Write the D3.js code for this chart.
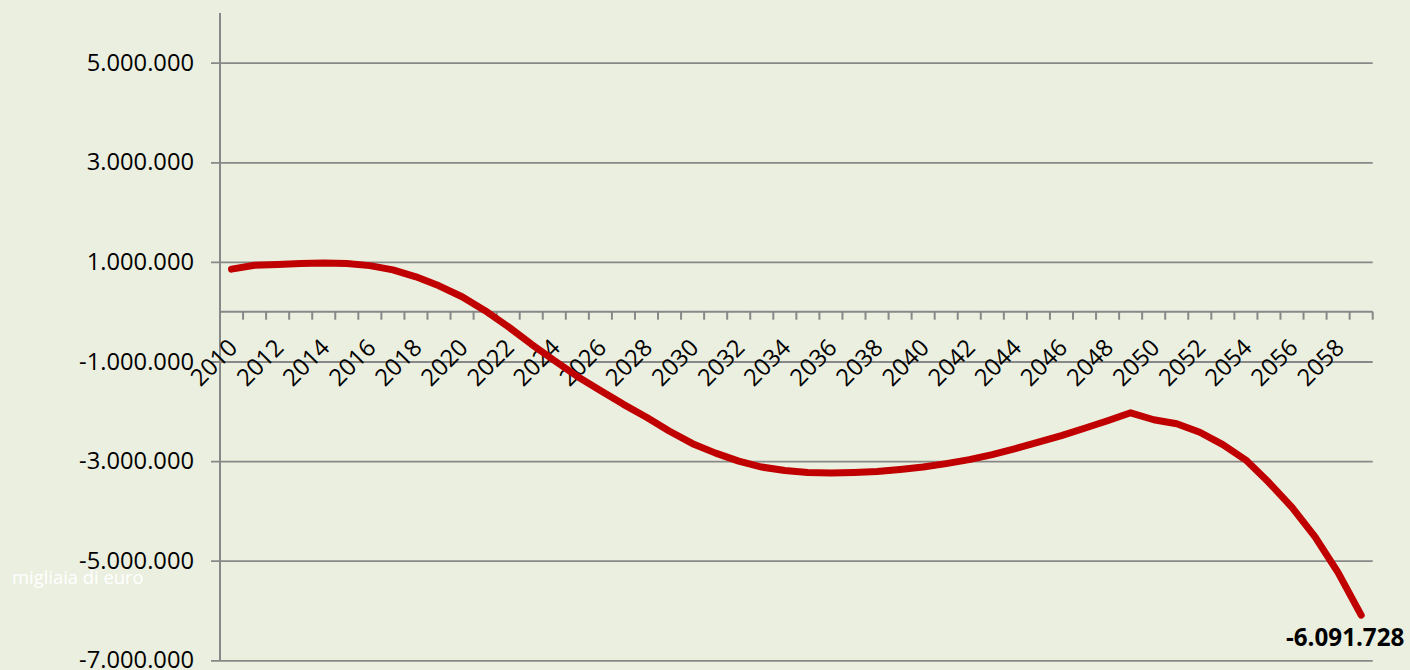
<!DOCTYPE html>
<html>
<head>
<meta charset="utf-8">
<script src="https://cdn.jsdelivr.net/npm/d3@7"></script>
<style>
  html, body { margin: 0; padding: 0; background: #ebefdf; }
  svg { display: block; }
  text { font-family: "Open Sans", "Noto Sans", sans-serif; }
</style>
</head>
<body>
<svg id="chart" width="1410" height="670"></svg>
<script>
// Saldo annuo, migliaia di euro, 2010-2059
const years = d3.range(2010, 2060);
const values = [
   854000,  932000,  950000,  970000,  978000,  970000,  925000,  840000,  700000,  520000,
   300000,   20000, -300000, -650000, -980000, -1300000, -1580000, -1860000, -2120000, -2400000,
  -2650000, -2840000, -3000000, -3120000, -3190000, -3230000, -3240000, -3230000, -3210000, -3170000,
  -3120000, -3050000, -2970000, -2870000, -2750000, -2620000, -2490000, -2340000, -2190000, -2030000,
  -2170000, -2250000, -2420000, -2670000, -2980000, -3430000, -3930000, -4520000, -5240000, -6091728
];
const yTicks = [5000000, 3000000, 1000000, -1000000, -3000000, -5000000, -7000000];
const xLabelYears = years.filter(y => (y - 2010) % 2 === 0);
const unitLabel = "migliaia di euro";

const it = d3.formatLocale({ decimal: ",", thousands: ".", grouping: [3], currency: ["€", ""], minus: "-" });
const fmt = it.format(",d");

const svg = d3.select("#chart");
const plotLeft = 220, plotRight = 1372.7, plotTop = 12.9, plotBottom = 660.3;
const labelSize = 23.7;

const x = d3.scaleBand().domain(years).range([plotLeft, plotRight]).paddingInner(0).paddingOuter(0);
const y = d3.scaleLinear().domain([-7000000, 6000000]).range([plotBottom, plotTop]);
const cx = d => x(d) + x.bandwidth() / 2;

// gridlines + value labels
const gy = svg.append("g")
  .attr("transform", `translate(211,0)`)
  .call(d3.axisLeft(y).tickValues(yTicks).tickFormat(fmt)
    .tickSize(-(plotRight - 211)).tickPadding(17));
gy.select(".domain").remove();
gy.selectAll(".tick line").attr("stroke", "#888").attr("stroke-width", 1.8);
gy.selectAll(".tick text").attr("font-size", labelSize).attr("fill", "#000")
  .attr("font-family", "'Open Sans', sans-serif");

// vertical axis
svg.append("line").attr("x1", plotLeft).attr("x2", plotLeft).attr("y1", plotTop).attr("y2", plotBottom)
  .attr("stroke", "#888").attr("stroke-width", 2);

// horizontal axis at zero
const y0 = y(0);
svg.append("line").attr("x1", plotLeft).attr("x2", plotRight).attr("y1", y0).attr("y2", y0)
  .attr("stroke", "#888").attr("stroke-width", 2);

// tick marks between categories
const boundaries = years.map(d => x(d)).concat([plotRight]);
svg.append("g").selectAll("line").data(boundaries).join("line")
  .attr("x1", d => d).attr("x2", d => d).attr("y1", y0).attr("y2", y0 + 8)
  .attr("stroke", "#888").attr("stroke-width", 2);

// year labels, rotated
svg.append("g").selectAll("text").data(xLabelYears).join("text")
  .attr("transform", d => `translate(${cx(d) + 1},${y0 + 31}) rotate(-45)`)
  .attr("text-anchor", "end")
  .attr("dominant-baseline", "central")
  .attr("font-size", labelSize)
  .attr("fill", "#000")
  .text(d => d);

// series line
const line = d3.line()
  .x((d, i) => cx(years[i]))
  .y(d => y(d));
svg.append("path").datum(values)
  .attr("d", line)
  .attr("fill", "none")
  .attr("stroke", "#c00000")
  .attr("stroke-width", 7)
  .attr("stroke-linecap", "round")
  .attr("stroke-linejoin", "round");

// last value label
const lastYear = years[years.length - 1], lastVal = values[values.length - 1];
svg.append("text")
  .attr("x", cx(lastYear) - 16)
  .attr("y", y(lastVal) + 31)
  .attr("text-anchor", "middle")
  .attr("font-size", 24.2)
  .attr("font-weight", "bold")
  .attr("fill", "#000")
  .text(fmt(lastVal));

// unit note
svg.append("text")
  .attr("x", 12)
  .attr("y", 584)
  .attr("font-size", 18.4)
  .attr("fill", "#ffffff")
  .text(unitLabel);
</script>
</body>
</html>
